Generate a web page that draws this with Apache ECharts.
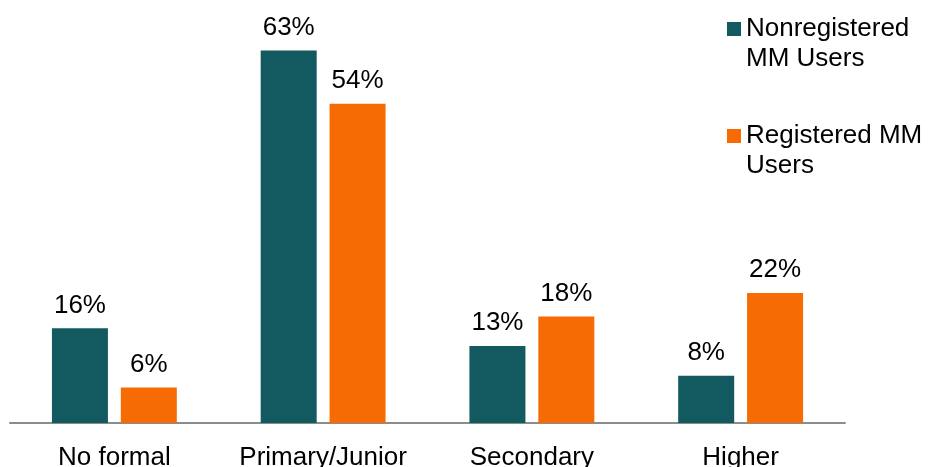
<!DOCTYPE html>
<html>
<head>
<meta charset="utf-8">
<script src="https://cdn.jsdelivr.net/npm/echarts@6/dist/echarts.min.js"></script>
<style>
html,body{margin:0;padding:0;background:#fff;}
#chart{width:928px;height:467px;}
</style>
</head>
<body>
<div id="chart"></div>
<script>
var categories = ['No formal', 'Primary/Junior', 'Secondary', 'Higher'];
var seriesNames = ['Nonregistered MM Users', 'Registered MM Users'];
var nonregistered = [16, 63, 13, 8];
var registered = [6, 54, 18, 22];
var legendLines = [['Nonregistered', 'MM Users'], ['Registered MM', 'Users']];

var TEAL = '#125A5F';
var ORANGE = '#F76B05';
var FONT = 'Liberation Sans, Arial, sans-serif';
var FS = 26;

var chart = echarts.init(document.getElementById('chart'));

function legendEntry(color, lines, top) {
  return {
    type: 'group',
    children: [
      { type: 'rect', shape: { x: 727, y: top, width: 14, height: 14 }, style: { fill: color } },
      { type: 'text', style: { x: 746, y: top + 7, text: lines[0], font: FS + 'px ' + FONT, fill: '#000', textVerticalAlign: 'middle' } },
      { type: 'text', style: { x: 746, y: top + 37, text: lines[1], font: FS + 'px ' + FONT, fill: '#000', textVerticalAlign: 'middle' } }
    ]
  };
}

var labelCfg = {
  show: true,
  position: 'top',
  distance: 10,
  formatter: '{c}%',
  color: '#000',
  fontSize: FS,
  fontFamily: FONT
};

chart.setOption({
  animation: false,
  grid: { left: 10, right: 83, top: 9, bottom: 44, containLabel: false, outerBoundsMode: 'none' },
  xAxis: {
    type: 'category',
    data: categories,
    axisLine: { show: true, lineStyle: { color: '#8C8C8C', width: 2 } },
    axisTick: { show: false },
    axisLabel: { color: '#000', fontSize: FS, fontFamily: FONT, margin: 22, interval: 0 }
  },
  yAxis: {
    type: 'value',
    min: 0,
    max: 70,
    show: false,
    splitLine: { show: false }
  },
  series: [
    {
      name: seriesNames[0],
      type: 'bar',
      data: nonregistered,
      barWidth: 56,
      barGap: '23%',
      itemStyle: { color: TEAL },
      label: labelCfg
    },
    {
      name: seriesNames[1],
      type: 'bar',
      data: registered,
      barWidth: 56,
      barGap: '23%',
      itemStyle: { color: ORANGE },
      label: labelCfg
    }
  ],
  graphic: [
    legendEntry(TEAL, legendLines[0], 22),
    legendEntry(ORANGE, legendLines[1], 129)
  ]
});
</script>
</body>
</html>
